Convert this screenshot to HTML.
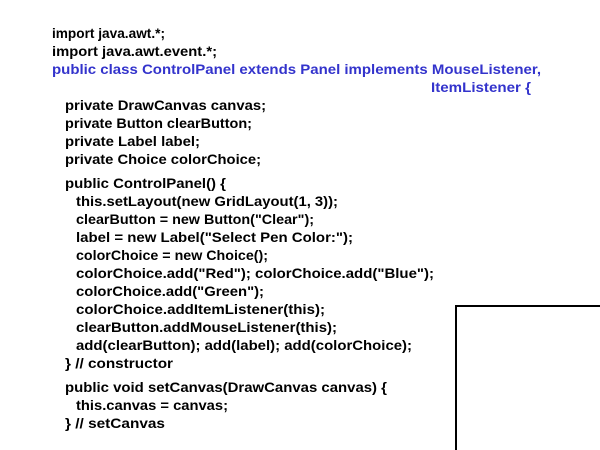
<!DOCTYPE html>
<html><head><style>html,body{margin:0;padding:0;background:#fff;width:600px;height:450px;overflow:hidden}</style></head>
<body>
<svg width="600" height="450" xmlns="http://www.w3.org/2000/svg" style="position:absolute;left:0;top:0">
<g font-family="Liberation Sans, Arial, sans-serif" font-weight="bold" font-size="14" fill="#000">
<text x="52" y="38" textLength="113" lengthAdjust="spacingAndGlyphs">import java.awt.*;</text>
<text x="52" y="56" textLength="165" lengthAdjust="spacingAndGlyphs">import java.awt.event.*;</text>
<text x="52" y="74" fill="#3333cc" textLength="489" lengthAdjust="spacingAndGlyphs">public class ControlPanel extends Panel implements MouseListener,</text>
<text x="431" y="92" fill="#3333cc" textLength="100" lengthAdjust="spacingAndGlyphs">ItemListener {</text>
<text x="65" y="110" textLength="201" lengthAdjust="spacingAndGlyphs">private DrawCanvas canvas;</text>
<text x="65" y="128" textLength="187" lengthAdjust="spacingAndGlyphs">private Button clearButton;</text>
<text x="65" y="146" textLength="135" lengthAdjust="spacingAndGlyphs">private Label label;</text>
<text x="65" y="164" textLength="196" lengthAdjust="spacingAndGlyphs">private Choice colorChoice;</text>
<text x="65" y="188" textLength="161" lengthAdjust="spacingAndGlyphs">public ControlPanel() {</text>
<text x="76" y="206" textLength="262" lengthAdjust="spacingAndGlyphs">this.setLayout(new GridLayout(1, 3));</text>
<text x="76" y="224" textLength="238" lengthAdjust="spacingAndGlyphs">clearButton = new Button("Clear");</text>
<text x="76" y="242" textLength="277" lengthAdjust="spacingAndGlyphs">label = new Label("Select Pen Color:");</text>
<text x="76" y="260" textLength="192" lengthAdjust="spacingAndGlyphs">colorChoice = new Choice();</text>
<text x="76" y="278" textLength="358" lengthAdjust="spacingAndGlyphs">colorChoice.add("Red"); colorChoice.add("Blue");</text>
<text x="76" y="296" textLength="188" lengthAdjust="spacingAndGlyphs">colorChoice.add("Green");</text>
<text x="76" y="314" textLength="249" lengthAdjust="spacingAndGlyphs">colorChoice.addItemListener(this);</text>
<text x="76" y="332" textLength="261" lengthAdjust="spacingAndGlyphs">clearButton.addMouseListener(this);</text>
<text x="76" y="350" textLength="336" lengthAdjust="spacingAndGlyphs">add(clearButton); add(label); add(colorChoice);</text>
<text x="65" y="368" textLength="108" lengthAdjust="spacingAndGlyphs">}  // constructor</text>
<text x="65" y="392" textLength="322" lengthAdjust="spacingAndGlyphs">public void setCanvas(DrawCanvas canvas) {</text>
<text x="76" y="410" textLength="152" lengthAdjust="spacingAndGlyphs">this.canvas = canvas;</text>
<text x="65" y="428" textLength="100" lengthAdjust="spacingAndGlyphs">}  // setCanvas</text>
</g>
<path d="M456 452 V306 H602" fill="none" stroke="#000" stroke-width="2"/>
</svg>
</body></html>
